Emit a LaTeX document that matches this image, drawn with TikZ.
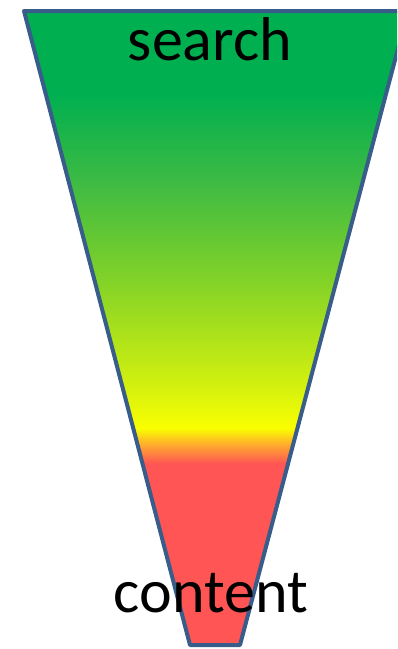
\documentclass[tikz,border=0pt]{standalone}
\usepackage{fontspec}
\setmainfont{Carlito}
\definecolor{cgreen}{RGB}{0,176,80}
\definecolor{cmg}{RGB}{60,186,68}
\definecolor{clg}{RGB}{130,210,40}
\definecolor{cyg}{RGB}{210,240,15}
\definecolor{cyellow}{RGB}{250,255,0}
\definecolor{corange}{RGB}{255,170,45}
\definecolor{cred}{RGB}{255,85,85}
\definecolor{edge}{RGB}{56,93,138}
\pgfdeclareverticalshading{funnelshade}{100bp}{color(0bp)=(cred); color(39.3bp)=(cred); color(40.8bp)=(corange); color(42.1bp)=(cyellow); color(45.5bp)=(cyg); color(53.8bp)=(clg); color(61.7bp)=(cmg); color(68.4bp)=(cgreen); color(100bp)=(cgreen)}
\tikzset{
  funnelbox/.style={draw=edge, line width=4pt, line join=round, shading=funnelshade},
  bigtext/.style={font=\fontsize{62}{70}\selectfont, text=black, inner sep=0pt, anchor=base}
}
\begin{document}
\begin{tikzpicture}[x=1pt,y=-1pt]
\useasboundingbox (0,0) rectangle (397,649);
\clip (0,0) rectangle (397,649);
\coordinate (tl) at (24,11);
\coordinate (tr) at (408,11);
\coordinate (br) at (240,645);
\coordinate (bl) at (190,645);
\shade[funnelbox] (tl) -- (tr) -- (br) -- (bl) -- cycle;
\node[bigtext] (search) at (210,60) {search};
\node[bigtext] (content) at (211,612) {content};
\end{tikzpicture}
\end{document}
